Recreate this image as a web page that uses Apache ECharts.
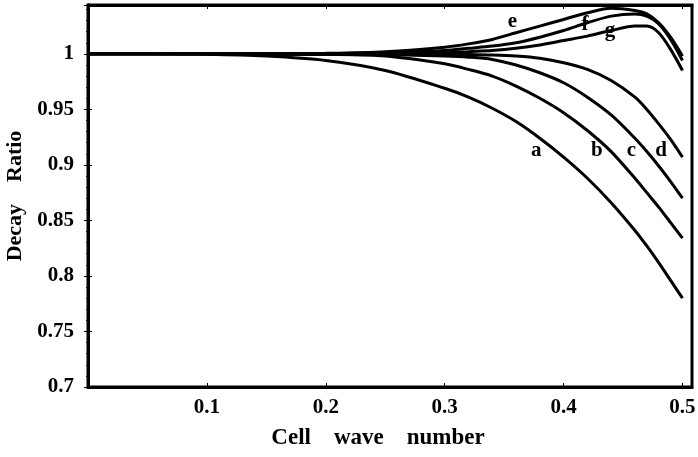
<!DOCTYPE html>
<html>
<head>
<meta charset="utf-8">
<script src="https://cdn.jsdelivr.net/npm/echarts@6/dist/echarts.min.js"></script>
<style>
html,body{margin:0;padding:0;background:#fff;}
#chart{width:698px;height:457px;}
</style>
</head>
<body>
<div id="chart"></div>
<script>
// x positions (cell wave number) where values are read
const waveNumbers = [0, 0.05, 0.1, 0.15, 0.2, 0.25, 0.3, 0.32, 0.34, 0.36, 0.38, 0.40, 0.42, 0.44, 0.46, 0.47, 0.48, 0.49, 0.5];
// decay ratio curves
const curveA = [1, 1, 0.9997, 0.998, 0.994, 0.985, 0.969, 0.961, 0.951, 0.939, 0.924, 0.907, 0.888, 0.866, 0.841, 0.827, 0.812, 0.796, 0.780];
const curveB = [1, 1, 1, 0.9998, 0.9995, 0.998, 0.991, 0.986, 0.980, 0.971, 0.960, 0.947, 0.931, 0.912, 0.888, 0.875, 0.862, 0.848, 0.834];
const curveC = [1, 1, 1, 1, 1, 0.9995, 0.998, 0.997, 0.995, 0.990, 0.983, 0.974, 0.961, 0.945, 0.924, 0.912, 0.899, 0.885, 0.870];
const curveD = [1, 1, 1, 1, 1, 1, 0.9998, 0.9995, 0.999, 0.998, 0.996, 0.992, 0.986, 0.976, 0.961, 0.950, 0.937, 0.923, 0.907];
const curveE = [1, 1, 1, 1, 1.0005, 1.002, 1.006, 1.009, 1.013, 1.019, 1.025, 1.031, 1.037, 1.041, 1.039, 1.036, 1.028, 1.015, 0.998];
const curveF = [1, 1, 1, 1, 1.0002, 1.001, 1.003, 1.005, 1.007, 1.010, 1.015, 1.021, 1.028, 1.034, 1.036, 1.034, 1.027, 1.013, 0.994];
const curveG = [1, 1, 1, 1, 1, 1.0003, 1.001, 1.002, 1.003, 1.005, 1.008, 1.012, 1.016, 1.021, 1.025, 1.025, 1.019, 1.004, 0.985];
const curveNames = ['a', 'b', 'c', 'd', 'e', 'f', 'g'];
// annotation letter positions (data coordinates)
const labelX = [0.377, 0.428, 0.457, 0.482, 0.357, 0.418, 0.439];
const labelY = [0.913, 0.913, 0.913, 0.913, 1.029, 1.026, 1.021];
// axes
const xMin = 0, xMax = 0.508, xStep = 0.1;
const yMin = 0.7, yMax = 1.044, yStep = 0.05;
const xTitle = 'Cell    wave    number';
const yTitle = 'Decay    Ratio';

const FONT = "'Liberation Serif', 'Times New Roman', serif";
const curves = [curveA, curveB, curveC, curveD, curveE, curveF, curveG];

const lineSeries = curves.map((c, i) => ({
  name: curveNames[i],
  type: 'line',
  data: waveNumbers.map((x, j) => [x, c[j]]),
  showSymbol: false,
  smooth: 0.3,
  lineStyle: { color: '#000', width: 3 },
  itemStyle: { color: '#000' },
  z: 3
}));

const labelSeries = {
  type: 'scatter',
  data: curveNames.map((n, i) => ({ name: n, value: [labelX[i], labelY[i]] })),
  symbolSize: 0,
  itemStyle: { color: '#000' },
  label: {
    show: true, position: 'inside',
    formatter: p => p.name,
    color: '#000', textBorderWidth: 0, opacity: 1,
    fontFamily: FONT, fontWeight: 'bold', fontSize: 21
  },
  z: 4
};

const tickLabelStyle = { color: '#000', fontFamily: FONT, fontWeight: 'bold', fontSize: 21 };
const fmt = v => (Math.abs(v) < 1e-9 ? '' : String(+v.toFixed(3)));

const chart = echarts.init(document.getElementById('chart'), null, { renderer: 'canvas' });
chart.setOption({
  animation: false,
  backgroundColor: '#fff',
  grid: { left: 88, right: 6, top: 5, bottom: 70, containLabel: false, outerBoundsMode: 'none', show: true, borderColor: '#000', borderWidth: 3, backgroundColor: 'transparent' },
  xAxis: [{
    type: 'value', min: xMin, max: xMax, interval: xStep,
    name: xTitle, nameLocation: 'middle', nameGap: 40,
    nameTextStyle: { color: '#000', fontFamily: FONT, fontWeight: 'bold', fontSize: 23, padding: [0, 24, 0, 0] },
    axisLine: { show: true, lineStyle: { color: '#000', width: 3 } },
    axisTick: { show: true, inside: true, length: 4, lineStyle: { color: '#000', width: 1 } },
    axisLabel: Object.assign({ margin: 10, formatter: fmt, showMaxLabel: false, showMinLabel: false }, tickLabelStyle),
    splitLine: { show: false }
  }, {
    type: 'value', position: 'top', min: xMin, max: xMax, interval: xStep,
    axisLine: { show: true, lineStyle: { color: '#000', width: 3 } },
    axisTick: { show: true, inside: true, length: 4, lineStyle: { color: '#000', width: 1 } },
    axisLabel: { show: false }, splitLine: { show: false }
  }],
  yAxis: [{
    type: 'value', min: yMin, max: yMax, interval: yStep,
    name: yTitle, nameLocation: 'middle', nameGap: 60,
    nameTextStyle: { color: '#000', fontFamily: FONT, fontWeight: 'bold', fontSize: 22 },
    axisLine: { show: true, lineStyle: { color: '#000', width: 3 } },
    axisTick: { show: true, inside: true, length: 4, lineStyle: { color: '#000', width: 1 } },
    minorTick: { show: true, splitNumber: 5, length: 2, lineStyle: { color: '#000', width: 1 } },
    axisLabel: Object.assign({ margin: 14, formatter: fmt, showMaxLabel: false }, tickLabelStyle),
    splitLine: { show: false }
  }, {
    type: 'value', position: 'right', min: yMin, max: yMax, interval: yStep,
    axisLine: { show: true, lineStyle: { color: '#000', width: 3 } },
    axisTick: { show: true, inside: true, length: 4, lineStyle: { color: '#000', width: 1 } },
    minorTick: { show: true, splitNumber: 5, length: 2, lineStyle: { color: '#000', width: 1 } },
    axisLabel: { show: false }, splitLine: { show: false }
  }],
  series: lineSeries.concat([labelSeries])
});
</script>
</body>
</html>
